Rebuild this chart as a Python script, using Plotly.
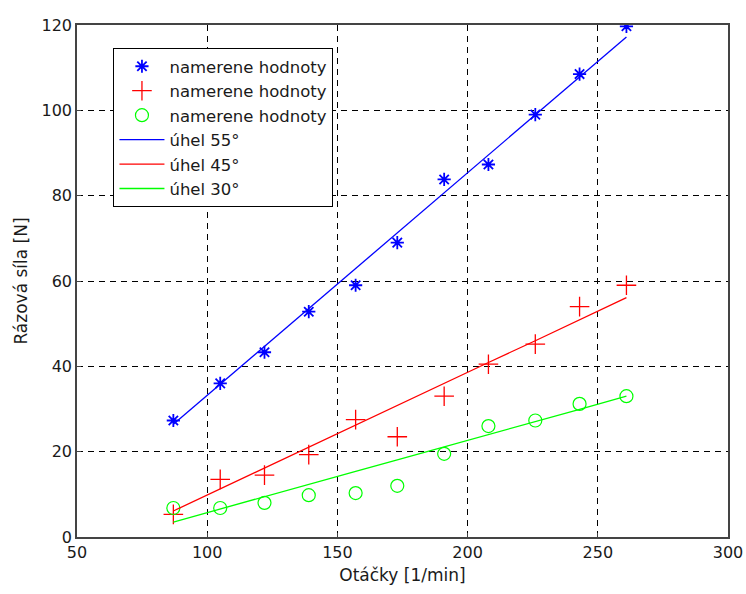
import plotly.graph_objects as go

otacky = [87, 105, 122, 139, 157, 173, 191, 208, 226, 243, 261]

sila_55 = [27.3, 36.0, 43.3, 52.8, 59.0, 69.0, 83.8, 87.3, 99.0, 108.5, 119.7]
sila_45 = [5.3, 13.5, 14.5, 19.3, 27.5, 23.5, 33.0, 40.5, 45.2, 54.0, 59.0]
sila_30 = [6.8, 6.8, 8.0, 9.8, 10.3, 12.0, 19.5, 26.0, 27.3, 31.2, 33.0]

fit_55 = [26.4, 35.8, 44.7, 53.5, 63.0, 71.3, 80.7, 89.5, 98.9, 107.8, 117.2]
fit_45 = [6.1, 11.3, 16.2, 21.0, 26.2, 30.8, 36.0, 40.9, 46.0, 50.9, 56.1]
fit_30 = [3.5, 6.6, 9.4, 12.3, 15.4, 18.1, 21.1, 24.0, 27.1, 29.9, 33.0]

x_ticks = [50, 100, 150, 200, 250, 300]
y_ticks = [0, 20, 40, 60, 80, 100, 120]

BLUE = "#0000ff"
RED = "#ff0000"
GREEN = "#00ff00"
TXT = "#1a1a1a"
FONT = "DejaVu Sans"

fig = go.Figure()
fig.add_trace(go.Scatter(x=otacky, y=sila_55, mode="markers", name="namerene hodnoty",
                         marker=dict(symbol="asterisk-open", size=11, color=BLUE,
                                     line=dict(color=BLUE, width=1.8))))
fig.add_trace(go.Scatter(x=otacky, y=sila_45, mode="markers", name="namerene hodnoty",
                         marker=dict(symbol="cross-thin-open", size=14, color=RED,
                                     line=dict(color=RED, width=1.3))))
fig.add_trace(go.Scatter(x=otacky, y=sila_30, mode="markers", name="namerene hodnoty",
                         marker=dict(symbol="circle-open", size=13, color=GREEN,
                                     line=dict(color=GREEN, width=1.2))))
fig.add_trace(go.Scatter(x=otacky, y=fit_55, mode="lines", name="úhel 55°",
                         line=dict(color=BLUE, width=1.3)))
fig.add_trace(go.Scatter(x=otacky, y=fit_45, mode="lines", name="úhel 45°",
                         line=dict(color=RED, width=1.3)))
fig.add_trace(go.Scatter(x=otacky, y=fit_30, mode="lines", name="úhel 30°",
                         line=dict(color=GREEN, width=1.3)))

axis_common = dict(
    showline=True, linecolor="#444444", linewidth=1.5, mirror=True,
    showgrid=True, gridcolor="#000000", gridwidth=1, griddash="6px,5px",
    zeroline=False, ticks="inside", ticklen=4, tickcolor="#444444",
    tickfont=dict(family=FONT, size=16, color=TXT), automargin=False,
)

fig.update_layout(
    width=746, height=594,
    margin=dict(l=77, r=18, t=25, b=57),
    paper_bgcolor="white", plot_bgcolor="white",
    font=dict(family=FONT, size=16, color=TXT),
    showlegend=True,
    legend=dict(x=0.056, y=0.955, xanchor="left", yanchor="top",
                bgcolor="white", bordercolor="#000000", borderwidth=1,
                font=dict(family=FONT, size=16.5, color=TXT),
                itemwidth=45, tracegroupgap=0),
)
fig.update_xaxes(range=[50, 300], tickvals=x_ticks,
                 title=dict(text="Otáčky [1/min]", font=dict(family=FONT, size=17, color=TXT), standoff=8),
                 **axis_common)
fig.update_yaxes(range=[0, 120], tickvals=y_ticks,
                 title=dict(text="Rázová síla [N]", font=dict(family=FONT, size=17, color=TXT), standoff=10),
                 **axis_common)

fig.write_html("out.html")
